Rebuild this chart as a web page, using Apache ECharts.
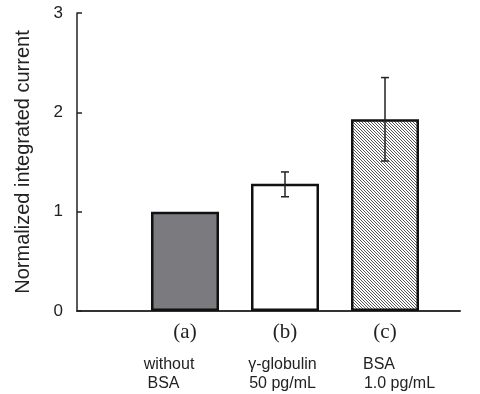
<!DOCTYPE html>
<html>
<head>
<meta charset="utf-8">
<script src="https://cdn.jsdelivr.net/npm/echarts@6/dist/echarts.min.js"></script>
<style>
  html, body { margin: 0; padding: 0; background: #fff; }
  #chart { width: 480px; height: 394px; }
</style>
</head>
<body>
<div id="chart"></div>
<script>
// data
const categories = ['(a)', '(b)', '(c)'];
const descriptions = [['without', 'BSA'], ['γ-globulin', '50 pg/mL'], ['BSA', '1.0 pg/mL']];
const values = [1.0, 1.28, 1.93];
const errLow = [null, 1.15, 1.51];
const errHigh = [null, 1.40, 2.35];
const yTicks = [0, 1, 2, 3];

// diagonal hatch for bar (c)
function hatch() {
    const c = document.createElement('canvas');
    c.width = 3;
    c.height = 3;
    const ctx = c.getContext('2d');
    ctx.fillStyle = '#fff';
    ctx.fillRect(0, 0, 3, 3);
    ctx.fillStyle = '#555';
    for (let i = 0; i < 3; i++) {
        ctx.fillRect(i, i, 1, 1);
    }
    return c;
}

const fills = ['#7b7b7f', '#ffffff', { image: hatch(), repeat: 'repeat' }];

const barData = values.map((v, i) => ({
    value: v,
    itemStyle: { color: fills[i] }
}));

const errData = [];
values.forEach((v, i) => {
    if (errLow[i] != null) errData.push([i, errLow[i], errHigh[i]]);
});

const chart = echarts.init(document.getElementById('chart'), null, { renderer: 'canvas' });

const sans = 'Liberation Sans, Arial, sans-serif';
// per-line nudges so the two-line captions sit like in the figure
const descRich = {
    a1: { padding: [0, 32, 0, 0] },
    a2: { padding: [0, 43, 0, 0] },
    b1: { padding: [0, 5, 0, 0] },
    b2: { padding: [0, 5, 0, 0] },
    c1: { padding: [0, 12, 0, 0] },
    c2: { padding: [0, 0, 0, 29] }
};
Object.keys(descRich).forEach(k => {
    Object.assign(descRich[k], { fontFamily: sans, fontSize: 16, lineHeight: 19, color: '#222' });
});

const option = {
    animation: false,
    backgroundColor: '#fff',
    grid: [
        { left: 77, right: 20, top: 13, bottom: 83 },
        { left: 135, width: 300, top: 13, bottom: 83 }
    ],
    xAxis: [
        {
            gridIndex: 0,
            type: 'value',
            min: 0,
            max: 1,
            axisLine: { show: true, lineStyle: { color: '#333', width: 2 } },
            axisTick: { show: false },
            axisLabel: { show: false },
            splitLine: { show: false }
        },
        {
            gridIndex: 1,
            type: 'category',
            data: categories,
            axisLine: { show: false },
            axisTick: { show: false },
            axisLabel: {
                interval: 0,
                margin: 11,
                fontFamily: 'Liberation Serif, Times New Roman, serif',
                fontSize: 21,
                color: '#222'
            }
        },
        {
            gridIndex: 1,
            type: 'category',
            position: 'bottom',
            offset: 0,
            data: categories,
            axisLine: { show: false },
            axisTick: { show: false },
            axisLabel: {
                interval: 0,
                margin: 44,
                formatter: function (v, i) {
                    const k = ['a', 'b', 'c'][i];
                    return '{' + k + '1|' + descriptions[i][0] + '}\n{' + k + '2|' + descriptions[i][1] + '}';
                },
                rich: descRich
            }
        }
    ],
    yAxis: [
        {
            gridIndex: 0,
            type: 'value',
            min: yTicks[0],
            max: yTicks[yTicks.length - 1],
            interval: 1,
            name: 'Normalized integrated current',
            nameLocation: 'middle',
            nameGap: 44,
            nameTextStyle: { fontFamily: sans, fontSize: 20, color: '#222' },
            axisLine: { show: true, lineStyle: { color: '#222', width: 1.5 } },
            axisTick: { show: true, inside: true, length: 5, lineStyle: { color: '#222', width: 1.5 } },
            axisLabel: { margin: 14, fontFamily: sans, fontSize: 17, color: '#222' },
            splitLine: { show: false }
        },
        {
            gridIndex: 1,
            type: 'value',
            min: yTicks[0],
            max: yTicks[yTicks.length - 1],
            show: false
        }
    ],
    series: [
        {
            type: 'bar',
            xAxisIndex: 1,
            yAxisIndex: 1,
            barWidth: 68,
            data: barData,
            itemStyle: { borderColor: '#111', borderWidth: 2.5 }
        },
        {
            type: 'custom',
            xAxisIndex: 1,
            yAxisIndex: 1,
            z: 10,
            data: errData,
            renderItem: function (params, api) {
                const lo = api.coord([api.value(0), api.value(1)]);
                const hi = api.coord([api.value(0), api.value(2)]);
                const w = 4;
                const st = { stroke: '#222', lineWidth: 1.5 };
                return {
                    type: 'group',
                    children: [
                        { type: 'line', shape: { x1: lo[0], y1: lo[1], x2: hi[0], y2: hi[1] }, style: st },
                        { type: 'line', shape: { x1: lo[0] - w, y1: lo[1], x2: lo[0] + w, y2: lo[1] }, style: st },
                        { type: 'line', shape: { x1: hi[0] - w, y1: hi[1], x2: hi[0] + w, y2: hi[1] }, style: st }
                    ]
                };
            }
        }
    ]
};

chart.setOption(option);
</script>
</body>
</html>
